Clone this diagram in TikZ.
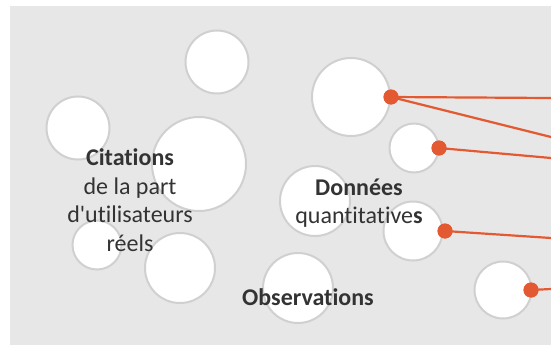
\documentclass[tikz,border=0pt]{standalone}
\usepackage{fontspec}
\setmainfont[Ligatures={TeXOff,NoCommon}]{Carlito}
\definecolor{bg}{HTML}{E7E7E7}
\definecolor{ring}{HTML}{D0D0D0}
\definecolor{accent}{HTML}{E35A32}
\definecolor{txt}{HTML}{333333}
\begin{document}
\begin{tikzpicture}[x=1pt,y=-1pt,
  bubble/.style={circle,draw=ring,fill=white,line width=2pt,inner sep=0pt,minimum size=#1},
  dot/.style={circle,fill=accent,inner sep=0pt,minimum size=15pt},
  link/.style={draw=accent,line width=2.2pt},
  label/.style={text=txt,font=\fontsize{24}{28.5}\selectfont,align=center,inner sep=0pt}]
\useasboundingbox (0,0) rectangle (551,345);
\fill[bg] (10,6) rectangle (551,345);
% bubbles
\node[bubble=63pt] (b1) at (217,62) {};
\node[bubble=63pt] (b2) at (78,128) {};
\node[bubble=94pt] (b3) at (199,164) {};
\node[bubble=49pt] (b4) at (97,245) {};
\node[bubble=70pt] (b5) at (180,268) {};
\node[bubble=70pt] (b6) at (298,288) {};
\node[bubble=70pt] (b7) at (315,201) {};
\node[bubble=78pt] (b8) at (351,97) {};
\node[bubble=49pt] (b9) at (414,148) {};
\node[bubble=59pt] (b10) at (413,231) {};
\node[bubble=57pt] (b11) at (503,290) {};
% dots
\node[dot] (d1) at (391,97) {};
\node[dot] (d2) at (439,148) {};
\node[dot] (d3) at (445,231) {};
\node[dot] (d4) at (531,290) {};
% free ends
\coordinate (e1) at (551,98);
\coordinate (e2) at (551,137);
\coordinate (e3) at (551,158);
\coordinate (e4) at (551,238);
\coordinate (e5) at (551,289);
\draw[link] (d1.center) -- (e1);
\draw[link] (d1.center) -- (e2);
\draw[link] (d2.center) -- (e3);
\draw[link] (d3.center) -- (e4);
\draw[link] (d4.center) -- (e5);
\node[dot] at (d1) {};
\node[dot] at (d2) {};
\node[dot] at (d3) {};
\node[dot] at (d4) {};
% texts
\node[label] (t1) at (130,200) {\textbf{Citations}\\de la part\\d'utilisateurs\\réels};
\node[label] (t2) at (359,203) {\textbf{Données}\\quantitative\textbf{s}};
\node[label] (t3) at (308,297) {\textbf{Observations}};
\end{tikzpicture}
\end{document}
